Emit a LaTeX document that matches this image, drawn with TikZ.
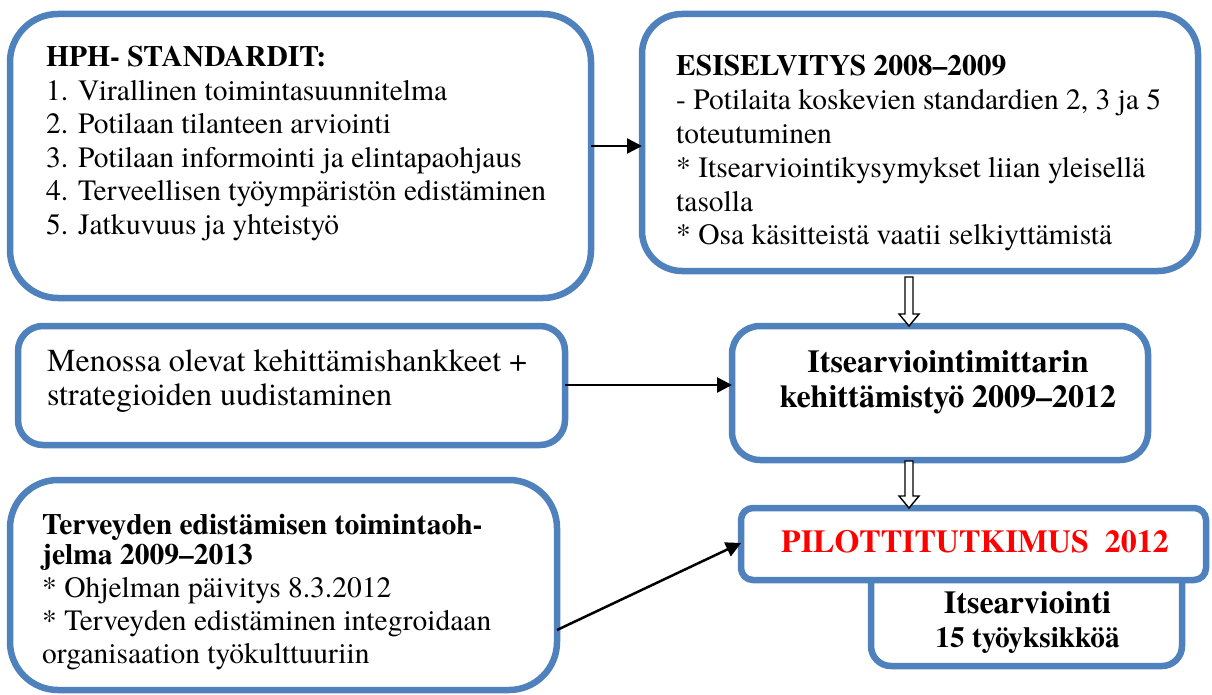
\documentclass[tikz,border=0pt]{standalone}
\usepackage{fontspec}
\setmainfont{texgyretermes}[Extension=.otf, UprightFont=*-regular, BoldFont=*-bold, ItalicFont=*-italic, BoldItalicFont=*-bolditalic]
\usetikzlibrary{arrows.meta,calc}
\definecolor{boxblue}{RGB}{79,129,189}
\definecolor{pilotred}{RGB}{255,0,0}
\newcommand\hollowarrow[2]{%
  \draw[hollowline] ($(#1)+(-4,0)$) -- ($(#2)+(-4,-12)$) -- ($(#2)+(-10,-12)$) -- (#2)
    -- ($(#2)+(10,-12)$) -- ($(#2)+(4,-12)$) -- ($(#1)+(4,0)$) -- cycle;}
\begin{document}
\begin{tikzpicture}[x=1pt,y=-1pt,
  box/.style={draw=boxblue, line width=6.5pt, fill=white, inner sep=0pt, outer sep=0pt},
  txt/.style={anchor=base west, inner sep=0pt, font=\fontsize{29.5}{33.5}\selectfont},
  bigtxt/.style={anchor=base, inner sep=0pt, font=\fontsize{32}{35}\selectfont\bfseries},
  arr/.style={line width=2.5pt, -{Triangle[length=15pt,width=15pt]}},
  hollowline/.style={draw=black, line width=1.4pt, fill=white, line join=miter}]
\useasboundingbox (0,0) rectangle (1212,695);

% boxes
\node[box, rounded corners=48pt, minimum width=581pt, minimum height=284pt] (hph) at (300.5,156) {};
\node[box, rounded corners=40pt, minimum width=556pt, minimum height=257pt] (esi) at (920,142.5) {};
\node[box, rounded corners=25pt, minimum width=547pt, minimum height=119pt] (men) at (291.5,385.5) {};
\node[box, rounded corners=28pt, minimum width=416pt, minimum height=134pt] (kehi) at (940,393) {};
\node[box, rounded corners=48pt, minimum width=547pt, minimum height=210pt] (terv) at (283.5,585) {};
\node[box, rounded corners=20pt, minimum width=311pt, minimum height=106pt] (itse) at (1026.5,613) {};
\node[box, rounded corners=12pt, minimum width=465pt, minimum height=72pt] (pilot) at (973.5,544) {};

% texts
\node[txt] (hphtxt) at (46,67) {\begin{tabular}[t]{@{}l@{}}
\textbf{HPH- STANDARDIT:}\\
1. Virallinen toimintasuunnitelma\\
2. Potilaan tilanteen arviointi\\
3. Potilaan informointi ja elintapaohjaus\\
4. Terveellisen työympäristön edistäminen\\
5. Jatkuvuus ja yhteistyö
\end{tabular}};

\node[txt, font=\fontsize{29.5}{33.8}\selectfont] (esitxt) at (676,76) {\begin{tabular}[t]{@{}l@{}}
\textbf{ESISELVITYS 2008–2009}\\
- Potilaita koskevien standardien 2, 3 ja 5\\
toteutuminen\\
{*} Itsearviointikysymykset liian yleisellä\\
tasolla\\
{*} Osa käsitteistä vaatii selkiyttämistä
\end{tabular}};

\node[txt, font=\fontsize{32}{34}\selectfont] (mentxt) at (47,371) {\begin{tabular}[t]{@{}l@{}}
Menossa olevat kehittämishankkeet +\\
strategioiden uudistaminen
\end{tabular}};

\node[bigtxt] (kehitxt) at (948,372) {\begin{tabular}[t]{@{}c@{}}
Itsearviointimittarin\\
kehittämistyö 2009–2012
\end{tabular}};

\node[txt, font=\fontsize{29.5}{33}\selectfont] (tervtxt) at (42,534) {\begin{tabular}[t]{@{}l@{}}
\textbf{Terveyden edistämisen toimintaoh-}\\[-3pt]
\textbf{jelma 2009–2013}\\
{*} Ohjelman päivitys 8.3.2012\\
{*} Terveyden edistäminen integroidaan\\
organisaation työkulttuuriin
\end{tabular}};

\node[bigtxt, text=pilotred] (pilottxt) at (975,552) {PILOTTITUTKIMUS\ \ 2012};

\node[bigtxt, font=\fontsize{32}{34}\selectfont\bfseries] (itsetxt) at (1027.5,613) {\begin{tabular}[t]{@{}c@{}}
Itsearviointi\\
{\fontsize{29.3}{34}\selectfont 15 työyksikköä}
\end{tabular}};

% connectors
\coordinate (y1) at (0,146);
\draw[arr] (hph.east |- y1) -- (esi.west |- y1);
\coordinate (y2) at (0,385);
\draw[arr] (men.east |- y2) -- (kehi.west |- y2);
\coordinate (y3) at (0,630);
\coordinate (y4) at (0,543);
\draw[arr] (terv.east |- y3) -- (pilot.west |- y4);

\coordinate (ha1) at (909,277);
\coordinate (hb1) at (ha1 |- kehi.north);
\hollowarrow{ha1}{hb1}
\coordinate (ha2) at (909,461);
\coordinate (hb2) at (ha2 |- pilot.north);
\hollowarrow{ha2}{hb2}
\end{tikzpicture}
\end{document}
